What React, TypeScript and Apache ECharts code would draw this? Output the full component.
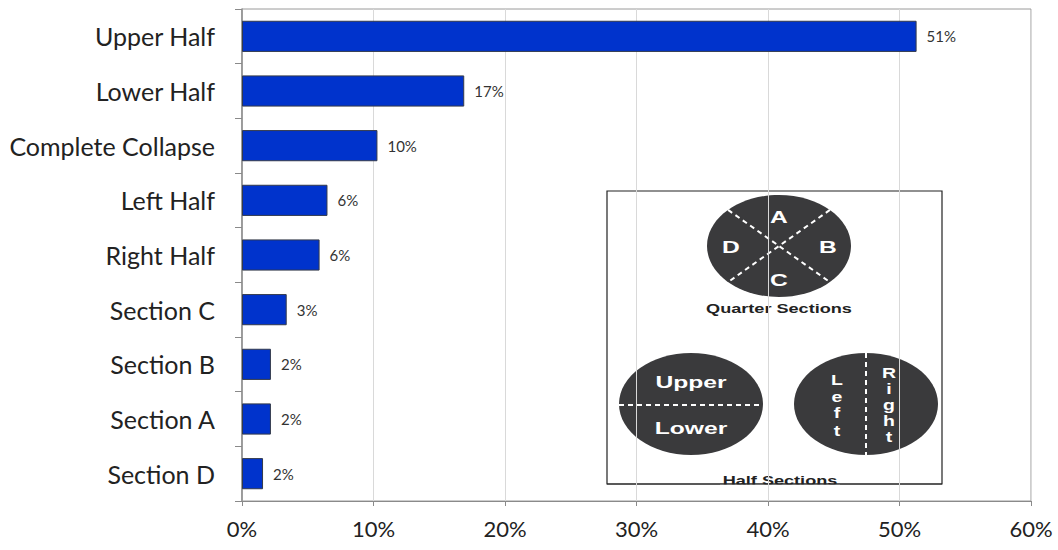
import React, { useEffect, useRef } from "react";
import * as echarts from "echarts";

const categories = [
  "Upper Half",
  "Lower Half",
  "Complete Collapse",
  "Left Half",
  "Right Half",
  "Section C",
  "Section B",
  "Section A",
  "Section D",
];
const values = [51.3, 16.9, 10.3, 6.5, 5.9, 3.4, 2.2, 2.2, 1.6];
const valueLabels = ["51%", "17%", "10%", "6%", "6%", "3%", "2%", "2%", "2%"];
const xTicks = [0, 10, 20, 30, 40, 50, 60];

export default function App() {
  const ref = useRef<HTMLDivElement>(null);
  useEffect(() => {
    if (!ref.current) return;
    const chart = echarts.init(ref.current, null, { renderer: "svg" });
    const dark = "#3a3a3c";
    const white = "#ffffff";
    const bold = "Liberation Sans, Arial, sans-serif";
    const letter = (t: string, x: number, y: number, size: number, sx = 1.45) => ({
      type: "text",
      x,
      y,
      scaleX: sx,
      style: {
        text: t,
        fill: white,
        font: `bold ${size}px ${bold}`,
        textAlign: "center",
        textVerticalAlign: "middle",
      },
    });
    const dash = (x1: number, y1: number, x2: number, y2: number) => ({
      type: "line",
      shape: { x1, y1, x2, y2 },
      style: { stroke: white, lineWidth: 2, lineDash: [5, 4] },
    });
    const ell = (cx: number, cy: number) => ({
      type: "ellipse",
      shape: { cx, cy, rx: 72, ry: 51 },
      style: { fill: dark },
    });
    const qa = Math.PI / 4;
    const qx = 72 * Math.cos(qa);
    const qy = 51 * Math.sin(qa);
    chart.setOption({
      animation: false,
      grid: {
        left: 242,
        right: 27,
        top: 9,
        bottom: 49,
        show: true,
        borderColor: "#9a9a9a",
        borderWidth: 1,
        backgroundColor: "transparent",
      },
      xAxis: {
        type: "value",
        min: 0,
        max: 60,
        interval: 10,
        axisLine: { show: true, lineStyle: { color: "#8a8a8a" } },
        axisTick: { show: true, length: 5, lineStyle: { color: "#8a8a8a" } },
        splitLine: { show: true, lineStyle: { color: "#d9d9d9" } },
        axisLabel: {
          formatter: (v: number) => (xTicks.includes(v) ? `${v}%` : ""),
          fontSize: 22,
          color: "#222",
          fontFamily: "Lato, 'Open Sans', sans-serif",
          margin: 16,
        },
      },
      yAxis: {
        type: "category",
        data: categories,
        inverse: true,
        axisLine: { show: true, lineStyle: { color: "#8a8a8a", width: 1.5 } },
        axisTick: { show: true, length: 7, lineStyle: { color: "#8a8a8a" } },
        axisLabel: {
          fontSize: 25,
          color: "#222",
          fontFamily: "Lato, 'Open Sans', sans-serif",
          margin: 27,
        },
      },
      series: [
        {
          type: "bar",
          data: values,
          barCategoryGap: "43%",
          itemStyle: { color: "#0033cc", borderColor: "#333a4a", borderWidth: 1 },
          label: {
            show: true,
            position: "right",
            distance: 10,
            formatter: (p: any) => valueLabels[p.dataIndex],
            fontSize: 15,
            color: "#333",
            fontFamily: "Lato, 'Open Sans', sans-serif",
          },
        },
      ],
      graphic: [
        {
          type: "group",
          z: 100,
          children: [
            {
              type: "rect",
              shape: { x: 607, y: 191, width: 335, height: 293 },
              style: { fill: white, stroke: "#222", lineWidth: 1.2 },
            },
            ell(779, 246),
            dash(779 - qx, 246 - qy, 779 + qx, 246 + qy),
            dash(779 + qx, 246 - qy, 779 - qx, 246 + qy),
            letter("A", 779, 217, 17),
            letter("D", 731, 247, 17),
            letter("B", 828, 247, 17),
            letter("C", 779, 280, 17),
            {
              type: "text",
              x: 779,
              y: 309,
              scaleX: 1.45,
              style: {
                text: "Quarter Sections",
                fill: "#222",
                font: `bold 12.5px ${bold}`,
                textAlign: "center",
                textVerticalAlign: "middle",
              },
            },
            ell(691, 404),
            dash(619, 405, 763, 405),
            letter("Upper", 691, 382, 17),
            letter("Lower", 691, 428, 17),
            ell(866, 404),
            dash(866, 353, 866, 455),
            letter("L", 837, 380, 15, 1.3),
            letter("e", 837, 397, 15, 1.3),
            letter("f", 837, 413, 15, 1.3),
            letter("t", 837, 431, 15, 1.3),
            letter("R", 889, 373, 15, 1.3),
            letter("i", 889, 389, 15, 1.3),
            letter("g", 889, 405, 15, 1.3),
            letter("h", 889, 421, 15, 1.3),
            letter("t", 889, 437, 15, 1.3),
            {
              type: "text",
              x: 780,
              y: 480.5,
              scaleX: 1.45,
              style: {
                text: "Half Sections",
                fill: "#222",
                font: `bold 12.5px ${bold}`,
                textAlign: "center",
                textVerticalAlign: "middle",
              },
            },
            {
              type: "rect",
              shape: { x: 720, y: 484.6, width: 120, height: 12 },
              style: { fill: white },
            },
            {
              type: "line",
              shape: { x1: 768.5, y1: 484.6, x2: 768.5, y2: 500 },
              style: { stroke: "#d9d9d9", lineWidth: 1 },
            },
            {
              type: "line",
              shape: { x1: 607, y1: 484, x2: 942, y2: 484 },
              style: { stroke: "#222", lineWidth: 1.2 },
            },
          ],
        },
      ],
    });
    return () => chart.dispose();
  }, []);
  return <div ref={ref} style={{ width: 1058, height: 550, position: "absolute", left: 0, top: 0 }} />;
}
